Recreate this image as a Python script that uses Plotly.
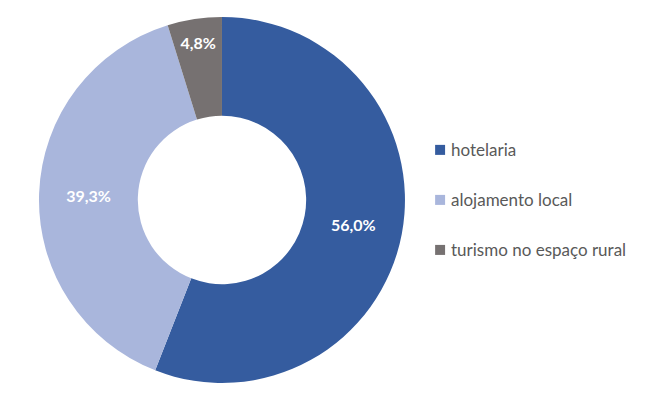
import plotly.graph_objects as go

categorias = ["hotelaria", "alojamento local", "turismo no espaço rural"]
valores = [56.0, 39.3, 4.8]
cores = ["#355C9F", "#A9B6DC", "#767171"]

rotulos = [f"{v:.1f}%".replace(".", ",") for v in valores]

# a página tem margem de 8px no body; compensar
dx = 8 / 664
dy = 8 / 404

fig = go.Figure()
fig.add_trace(go.Pie(
    labels=categorias,
    values=valores,
    text=rotulos,
    textinfo="text",
    textposition="inside",
    insidetextorientation="horizontal",
    textfont=dict(family="Lato", size=16, color="white", weight="bold"),
    hole=0.46,
    sort=False,
    direction="clockwise",
    rotation=0,
    marker=dict(colors=cores, line=dict(width=0)),
    domain=dict(x=[0.0587 - dx, 0.6099 - dx], y=[0.052 + dy, 0.958 + dy]),
    showlegend=False,
))

# legenda manual (espaçamento igual ao original)
for i, (cat, cor) in enumerate(zip(categorias, cores)):
    y = 0.629 + dy - i * 0.1238
    fig.add_shape(type="rect", xref="paper", yref="paper",
                  x0=0.6553 - dx, x1=0.6703 - dx, y0=y - 0.0124, y1=y + 0.0124,
                  fillcolor=cor, line=dict(width=0))
    fig.add_annotation(x=0.676 - dx, y=y, xref="paper", yref="paper",
                       text=cat, showarrow=False, xanchor="left", yanchor="middle",
                       font=dict(family="Lato", size=17, color="#595959"))

fig.update_layout(
    width=664, height=404,
    margin=dict(l=0, r=0, t=0, b=0),
    paper_bgcolor="white",
    plot_bgcolor="white",
)

fig.write_html("out.html")
